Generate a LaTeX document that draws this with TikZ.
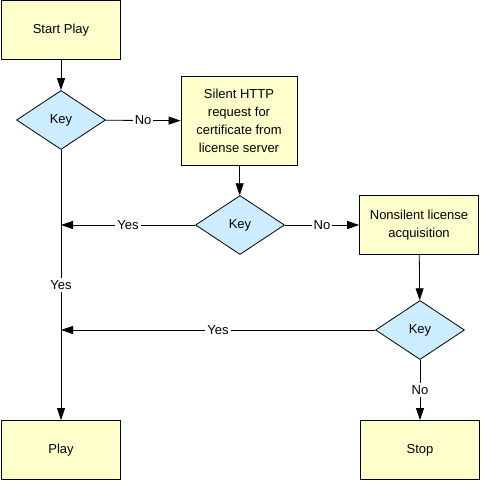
\documentclass[tikz,border=0pt]{standalone}
\usepackage{fontspec}
\setmainfont{Liberation Sans}
\usepackage{tikz}
\usetikzlibrary{shapes.geometric,arrows.meta}
\definecolor{boxfill}{HTML}{FFFFCC}
\definecolor{keyfill}{HTML}{CCECFF}
\tikzset{box/.style={rectangle,draw=black,line width=0.8pt,fill=boxfill,minimum width=119pt,minimum height=59pt,align=center,inner sep=2pt},
key/.style={diamond,draw=black,line width=0.8pt,fill=keyfill,minimum width=89pt,minimum height=59pt,inner sep=1pt},
flow/.style={-{Triangle[length=12pt,width=8pt]},line width=0.8pt},
lbl/.style={fill=white,inner sep=2pt}}

\begin{document}
\begin{tikzpicture}[x=1pt,y=-1pt,font=\fontsize{13}{18}\selectfont]
\useasboundingbox (0,0) rectangle (481,481);
\node[box] (start) at (61,30) {Start Play};
\node[key] (keyA) at (61,120) {Key};
\node[box,minimum width=116pt,minimum height=89pt] (silent) at (239,121) {Silent HTTP\\request for\\certificate from\\license server};
\node[key] (keyB) at (240,225) {Key};
\node[box] (nonsilent) at (419,225) {Nonsilent license\\acquisition};
\node[key] (keyC) at (420,330) {Key};
\node[box] (play) at (61,450) {Play};
\node[box] (stop) at (420,450) {Stop};
\coordinate (joinB) at (start |- keyB);
\coordinate (joinC) at (start |- keyC);
\draw[flow] (start) -- (keyA);
\draw[flow] (keyA) -- node[lbl] {No} (silent);
\draw[flow] (silent) -- (keyB);
\draw[flow] (keyB) -- node[lbl] {Yes} (joinB);
\draw[flow] (keyB) -- node[lbl] {No} (nonsilent);
\draw[flow] (nonsilent) -- (keyC);
\draw[flow] (keyC) -- node[lbl] {Yes} (joinC);
\draw[flow] (keyC) -- node[lbl] {No} (stop);
\draw[flow] (keyA) -- node[lbl] {Yes} (play);
\end{tikzpicture}
\end{document}
